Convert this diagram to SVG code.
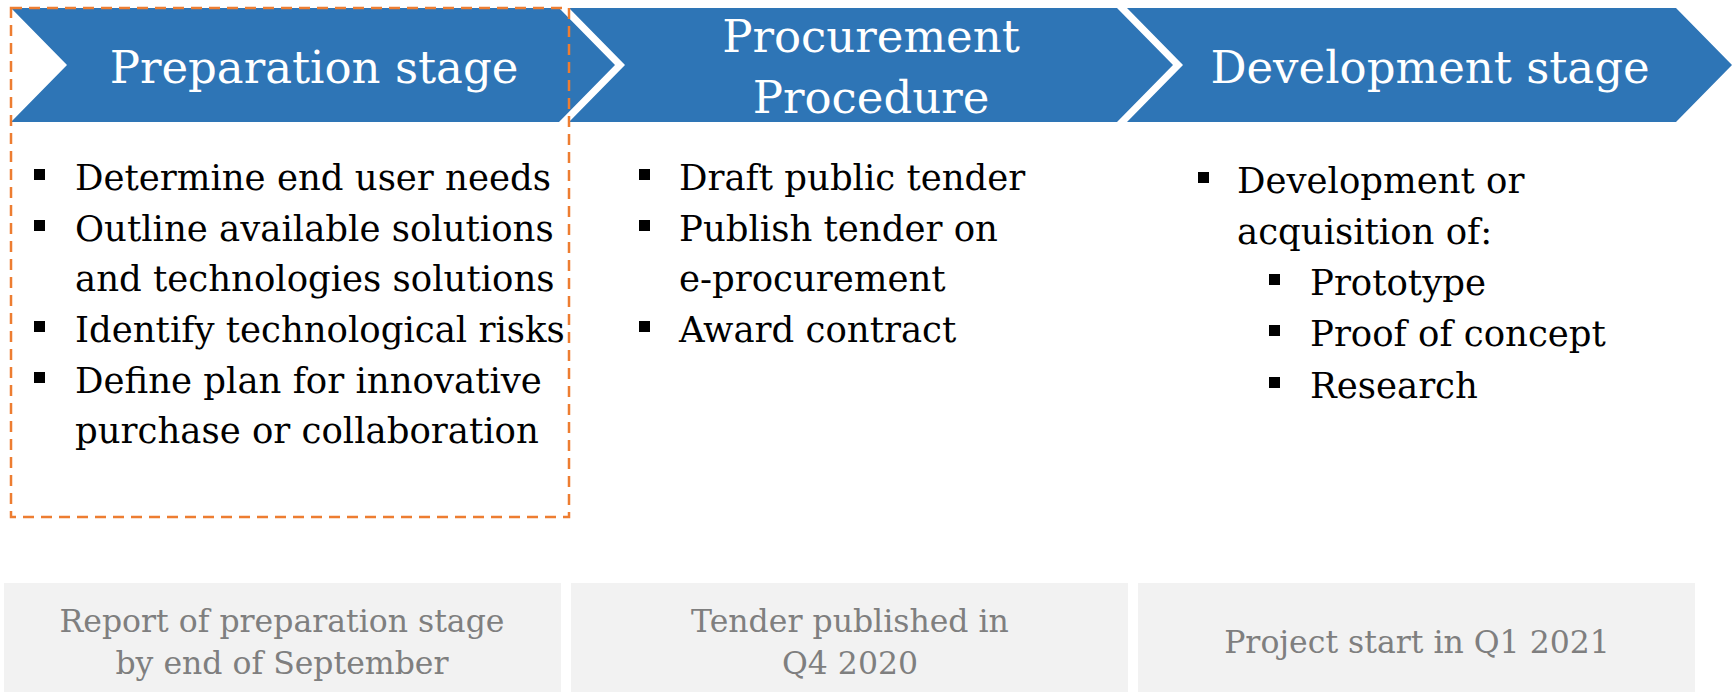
<svg xmlns="http://www.w3.org/2000/svg" width="1732" height="692" viewBox="0 0 1732 692">
  <style>
    .chev { fill: #2E75B6; }
    .title { font-family: "DejaVu Serif", "Liberation Serif", serif; font-size: 45px; fill: #FFFFFF; text-anchor: middle; }
    .item { font-family: "DejaVu Serif", "Liberation Serif", serif; font-size: 35.5px; fill: #000000; }
    .bullet { fill: #000000; }
    .note-box { fill: #F2F2F2; }
    .note { font-family: "DejaVu Serif", "Liberation Serif", serif; font-size: 31.5px; fill: #7F7F7F; text-anchor: middle; }
    .focus { fill: none; stroke: #ED7D31; stroke-width: 2.5; stroke-dasharray: 11 7; }
  </style>
  <defs>
    <rect id="sq" width="11" height="11"/>
  </defs>
  <rect width="1732" height="692" fill="#FFFFFF"/>

  <!-- Stage 1: preparation -->
  <g id="stage-preparation">
    <polygon class="chev" points="11,8 559,8 615,65 559,122 11,122 67,65"/>
    <text class="title" x="314" y="83">Preparation stage</text>
    <g class="bullet">
      <use href="#sq" x="34" y="169"/>
      <use href="#sq" x="34" y="220"/>
      <use href="#sq" x="34" y="321"/>
      <use href="#sq" x="34" y="372"/>
    </g>
    <text class="item" x="75" y="190">Determine end user needs</text>
    <text class="item" x="75" y="241">Outline available solutions</text>
    <text class="item" x="75" y="291">and technologies solutions</text>
    <text class="item" x="75" y="342">Identify technological risks</text>
    <text class="item" x="75" y="393">Define plan for innovative</text>
    <text class="item" x="75" y="443">purchase or collaboration</text>
  </g>

  <!-- Stage 2: procurement -->
  <g id="stage-procurement">
    <polygon class="chev" points="569,8 1117,8 1173,65 1117,122 569,122 625,65"/>
    <text class="title" x="871" y="52">Procurement</text>
    <text class="title" x="871" y="113">Procedure</text>
    <g class="bullet">
      <use href="#sq" x="639" y="169"/>
      <use href="#sq" x="639" y="220"/>
      <use href="#sq" x="639" y="321"/>
    </g>
    <text class="item" x="679" y="190">Draft public tender</text>
    <text class="item" x="679" y="241">Publish tender on</text>
    <text class="item" x="679" y="291">e-procurement</text>
    <text class="item" x="679" y="342">Award contract</text>
  </g>

  <!-- Stage 3: development -->
  <g id="stage-development">
    <polygon class="chev" points="1127,8 1676,8 1732,65 1676,122 1127,122 1183,65"/>
    <text class="title" x="1430" y="83">Development stage</text>
    <g class="bullet">
      <use href="#sq" x="1198" y="172"/>
      <use href="#sq" x="1269" y="274"/>
      <use href="#sq" x="1269" y="325"/>
      <use href="#sq" x="1269" y="377"/>
    </g>
    <text class="item" x="1237" y="193">Development or</text>
    <text class="item" x="1237" y="244">acquisition of:</text>
    <text class="item" x="1310" y="295">Prototype</text>
    <text class="item" x="1310" y="346">Proof of concept</text>
    <text class="item" x="1310" y="398">Research</text>
  </g>

  <!-- Highlight around the preparation stage -->
  <g id="focus-frame">
    <rect class="focus" x="11" y="8" width="558" height="509"/>
  </g>

  <!-- Milestones -->
  <g id="milestone-1">
    <rect class="note-box" x="4" y="583" width="557" height="109"/>
    <text class="note" x="282" y="632">Report of preparation stage</text>
    <text class="note" x="282" y="674">by end of September</text>
  </g>
  <g id="milestone-2">
    <rect class="note-box" x="571" y="583" width="557" height="109"/>
    <text class="note" x="850" y="632">Tender published in</text>
    <text class="note" x="850" y="674">Q4 2020</text>
  </g>
  <g id="milestone-3">
    <rect class="note-box" x="1138" y="583" width="557" height="109"/>
    <text class="note" x="1417" y="653">Project start in Q1 2021</text>
  </g>

  <g id="connectors"/>
</svg>
